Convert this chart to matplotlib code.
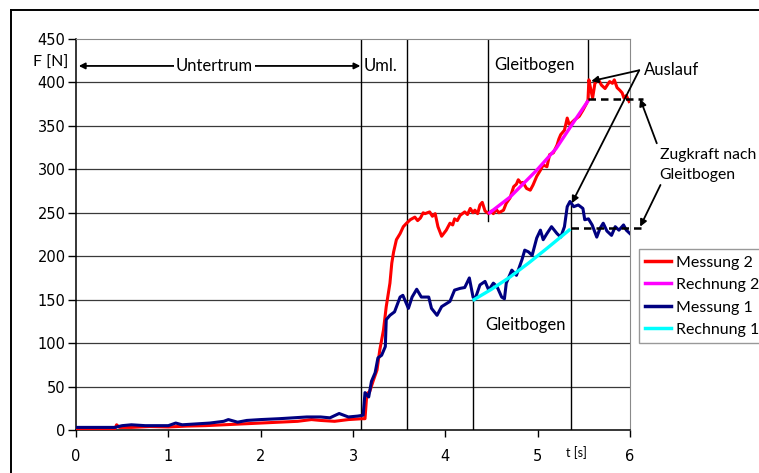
import matplotlib
matplotlib.use("Agg")
import matplotlib.pyplot as plt
from matplotlib.lines import Line2D

plt.rcParams["font.family"] = ["Lato", "DejaVu Sans"]

# Messung 2 (rot)
mess2_t = [0, 0.42, 0.44, 0.47, 0.6, 0.8, 1.0, 1.2, 1.4, 1.6, 1.8, 2.0, 2.2, 2.4,
           2.55, 2.65, 2.8, 2.95, 3.1, 3.13, 3.15, 3.18, 3.22, 3.26, 3.29, 3.33,
           3.36, 3.40, 3.42, 3.44, 3.47, 3.51, 3.545, 3.58, 3.62, 3.67, 3.70, 3.73,
           3.76, 3.78, 3.83, 3.86, 3.89, 3.92, 3.96, 4.01, 4.05, 4.08, 4.10, 4.13,
           4.16, 4.21, 4.24, 4.27, 4.30, 4.32, 4.35, 4.375, 4.40, 4.43, 4.47, 4.50,
           4.52, 4.55, 4.58, 4.63, 4.66, 4.70, 4.74, 4.77, 4.79, 4.82, 4.84, 4.88,
           4.92, 4.95, 4.99, 5.03, 5.06, 5.10, 5.13, 5.17, 5.21, 5.23, 5.25, 5.29,
           5.32, 5.34, 5.36, 5.40, 5.45, 5.49, 5.53, 5.545, 5.555, 5.575, 5.595,
           5.62, 5.66, 5.69, 5.73, 5.76, 5.78, 5.81, 5.83, 5.86, 5.89, 5.915, 5.935,
           5.96, 5.99]
mess2_f = [1, 1, 6, 3, 3, 4, 3.5, 4.5, 5, 6, 7, 8, 9, 10,
           12, 11, 10, 12, 13, 13, 42, 44, 57, 69, 92, 115,
           142, 169, 192, 205, 219, 226, 234, 238, 242, 245, 241, 244,
           250, 249, 251, 246, 249, 234, 223, 230, 238, 236, 243, 241,
           247, 251, 248, 255, 250, 253, 249, 259, 262, 252, 249, 252,
           249, 254, 250, 253, 261, 267, 280, 283, 288, 284, 285, 278,
           276, 282, 292, 299, 305, 303, 317, 319, 328, 335, 340, 345,
           359, 352, 353, 357, 361, 368, 376, 380, 403, 392, 382,
           399, 403, 397, 393, 398, 401, 399, 403, 394, 391, 388, 382,
           385, 378]

# Rechnung 2 (magenta)
rech2_t = [4.48, 4.70, 4.99, 5.20, 5.40, 5.54]
rech2_f = [250, 268, 299, 324, 356, 378]

# Messung 1 (dunkelblau)
mess1_t = [0, 0.42, 0.5, 0.6, 0.75, 0.9, 1.0, 1.08, 1.15, 1.3, 1.45, 1.6, 1.65,
           1.75, 1.85, 2.0, 2.2, 2.35, 2.5, 2.65, 2.75, 2.85, 2.95, 3.05, 3.11,
           3.13, 3.17, 3.20, 3.24, 3.27, 3.31, 3.35, 3.36, 3.40, 3.45, 3.51, 3.54,
           3.60, 3.64, 3.69, 3.74, 3.82, 3.85, 3.91, 3.96, 4.05, 4.10, 4.16, 4.21,
           4.26, 4.30, 4.32, 4.375, 4.43, 4.47, 4.52, 4.56, 4.61, 4.64, 4.66, 4.72,
           4.77, 4.83, 4.86, 4.90, 4.94, 4.99, 5.03, 5.06, 5.10, 5.15, 5.21, 5.25,
           5.29, 5.32, 5.35, 5.39, 5.44, 5.49, 5.51, 5.55, 5.59, 5.64, 5.675, 5.71,
           5.75, 5.80, 5.84, 5.88, 5.93, 5.96, 6.0]
mess1_f = [3, 3, 5, 6, 5, 5, 5, 8, 6, 7, 8, 10, 12,
           9, 11, 12, 13, 14, 15, 15, 14, 19, 15, 16, 17,
           43, 38, 56, 66, 83, 86, 96, 127, 132, 136, 153, 155,
           140, 153, 162, 153, 153, 140, 132, 142, 148, 161, 163, 164,
           175, 153, 150, 167, 171, 161, 169, 165, 153, 151, 169, 184,
           178, 196, 207, 205, 201, 221, 230, 219, 226, 234, 226, 222,
           234, 257, 263, 257, 259, 255, 242, 243, 236, 222, 232, 238,
           229, 224, 234, 230, 236, 230, 226]

# Rechnung 1 (cyan)
rech1_t = [4.31, 4.50, 4.70, 4.90, 5.10, 5.34]
rech1_f = [150, 162, 176, 192, 209, 230]

# Phasengrenzen: (t, F von, F bis)
phase_t = [3.09, 3.585, 4.30, 4.46, 5.36, 5.545]
phase_lo = [0, 0, 0, 240, 0, 380]
phase_hi = [450, 450, 150, 450, 262, 450]

# Zugkraft nach Gleitbogen
zug_f = [381, 233]
zug_t0 = [5.545, 5.36]
zug_t1 = 6.14

TXT = 12

fig = plt.figure(figsize=(7.59, 4.73), dpi=100)
ax = fig.add_axes([76 / 759, 1 - 430 / 473, 554 / 759, 391 / 473])

ax.set_xlim(0, 6)
ax.set_ylim(0, 450)
ax.set_yticks(range(0, 451, 50))
ax.set_xticks(range(0, 7))
ax.tick_params(axis="y", length=5.5, width=1, pad=2)
ax.tick_params(axis="x", length=5, width=1, pad=9)
for lab in ax.get_xticklabels() + ax.get_yticklabels():
    lab.set_fontfamily("DejaVu Sans")
    lab.set_fontsize(10.5)

for y in range(50, 450, 50):
    ax.axhline(y, color="#3a3a3a", lw=0.9, zorder=1)
for s in ("top", "right"):
    ax.spines[s].set_color("#8a8a8a")
for s in ("left", "bottom"):
    ax.spines[s].set_color("black")
    ax.spines[s].set_linewidth(1.1)

for t, lo, hi in zip(phase_t, phase_lo, phase_hi):
    ax.plot([t, t], [lo, hi], color="black", lw=1, zorder=2)

ax.plot(mess2_t, mess2_f, color="#ff0000", lw=2.2, label="Messung 2", zorder=3)
ax.plot(rech2_t, rech2_f, color="#ff00ff", lw=2.4, label="Rechnung 2", zorder=4)
ax.plot(mess1_t, mess1_f, color="#000080", lw=2.2, label="Messung 1", zorder=3)
ax.plot(rech1_t, rech1_f, color="#00ffff", lw=2.4, label="Rechnung 1", zorder=4)

for f, t0 in zip(zug_f, zug_t0):
    ax.plot([t0, zug_t1], [f, f], color="black", lw=1.8, ls=(0, (3, 2)),
            clip_on=False, zorder=5)

# Beschriftungen der Phasen
ax.annotate("", xy=(0.03, 419), xytext=(3.08, 419),
            arrowprops=dict(arrowstyle="<|-|>", color="black", lw=1.3,
                            mutation_scale=9, shrinkA=0, shrinkB=0))
ax.text(1.5, 419, "Untertrum", ha="center", va="center", fontsize=TXT,
        bbox=dict(facecolor="white", edgecolor="none", pad=1.5), zorder=6)
ax.text(3.12, 419, "Uml.", ha="left", va="center", fontsize=TXT)
ax.text(4.97, 420, "Gleitbogen", ha="center", va="center", fontsize=TXT)
ax.text(4.87, 121, "Gleitbogen", ha="center", va="center", fontsize=TXT)
ax.text(-0.013, 423, "F [N]", ha="right", va="center", fontsize=11.5,
        transform=ax.get_yaxis_transform())
ax.text(5.42, -26, "t [s]", ha="center", va="center", fontsize=9,
        clip_on=False)

# Auslauf
ax.text(6.15, 414, "Auslauf", ha="left", va="center", fontsize=TXT,
        clip_on=False)
for xy in [(5.58, 401.5), (5.37, 261)]:
    ax.annotate("", xy=xy, xytext=(6.10, 414), annotation_clip=False,
                arrowprops=dict(arrowstyle="-|>", color="black", lw=1.3,
                                mutation_scale=10, shrinkA=0, shrinkB=0))

# Zugkraft nach Gleitbogen
ax.text(6.32, 305, "Zugkraft nach\nGleitbogen", ha="left", va="center",
        fontsize=11.3, linespacing=1.5, clip_on=False)
ax.annotate("", xy=(6.11, 381), xytext=(6.29, 330), annotation_clip=False,
            arrowprops=dict(arrowstyle="-|>", color="black", lw=1.3,
                            mutation_scale=10, shrinkA=0, shrinkB=0))
ax.annotate("", xy=(6.11, 234), xytext=(6.33, 282), annotation_clip=False,
            arrowprops=dict(arrowstyle="-|>", color="black", lw=1.3,
                            mutation_scale=10, shrinkA=0, shrinkB=0))

leg = fig.legend(loc="upper left", bbox_to_anchor=(639 / 759, 1 - 249 / 473),
                 fontsize=11.5, frameon=True, fancybox=False, borderpad=0.4,
                 handlelength=1.6, handletextpad=0.3, labelspacing=0.52,
                 borderaxespad=0)
leg.get_frame().set_edgecolor("#808080")
leg.get_frame().set_linewidth(1)
for h in leg.get_lines():
    h.set_linewidth(2.5)

# Rahmen
fig.add_artist(Line2D([11 / 759, 1], [1 - 10 / 473] * 2,
                      transform=fig.transFigure, color="black", lw=1.4))
fig.add_artist(Line2D([11 / 759] * 2, [0, 1 - 10 / 473],
                      transform=fig.transFigure, color="black", lw=1.4))

fig.savefig("out.png", dpi=100)
